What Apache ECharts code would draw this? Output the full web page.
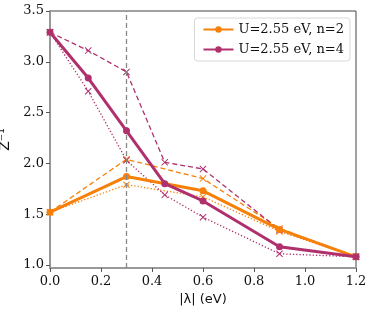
<!DOCTYPE html>
<html><head><meta charset="utf-8">
<script src="https://cdn.jsdelivr.net/npm/echarts@6/dist/echarts.min.js"></script>
<style>html,body{margin:0;padding:0;background:#fff}#c{width:374px;height:312px}</style>
</head><body><div id="c"></div>
<script>
// data
const xN2 = [0, 0.3, 0.6, 0.9, 1.2];
const n2Solid = [1.52, 1.87, 1.73, 1.35, 1.08];
const n2Dashed = [1.52, 2.04, 1.85, 1.36, 1.08];
const n2Dotted = [1.52, 1.79, 1.67, 1.33, 1.08];
const xN4 = [0, 0.15, 0.3, 0.45, 0.6, 0.9, 1.2];
const n4Solid = [3.29, 2.84, 2.32, 1.80, 1.63, 1.18, 1.08];
const n4Dashed = [3.29, 3.11, 2.90, 2.01, 1.945, 1.345, 1.08];
const n4Dotted = [3.29, 2.71, 2.03, 1.69, 1.47, 1.11, 1.08];
const yTicks = [1.0, 1.5, 2.0, 2.5, 3.0, 3.5];
const legendNames = ['U=2.55 eV, n=2', 'U=2.55 eV, n=4'];
const lambdaMark = 0.3;

const ORANGE = '#f7800a', MAG = '#b0306e';
const XSYM = 'path://M0,1L1,0L5,4L9,0L10,1L6,5L10,9L9,10L5,6L1,10L0,9L4,5Z';
const pairs = (xs, ys) => xs.map((x, i) => [x, ys[i]]);

function solid(name, xs, ys, c, z) {
  return { name, type: 'line', data: pairs(xs, ys), symbol: 'circle', symbolSize: 7,
    lineStyle: { color: c, width: 3 }, itemStyle: { color: c }, z, animation: false };
}
function thin(name, xs, ys, c, type) {
  return { name, type: 'line', data: pairs(xs, ys), symbol: XSYM, symbolSize: 7,
    lineStyle: { color: c, width: 1.3, type }, itemStyle: { color: c }, z: 3, animation: false };
}

const chart = echarts.init(document.getElementById('c'));
const serif = 'DejaVu Serif';
chart.setOption({
  animation: false,
  grid: { left: 50, right: 18, top: 11, bottom: 44, show: true, borderColor: '#444', borderWidth: 1,
    containLabel: false, outerBoundsMode: 'none' },
  legend: {
    data: legendNames, right: 24, top: 18, orient: 'vertical', itemWidth: 30, itemHeight: 8, itemGap: 7,
    backgroundColor: '#fff', borderColor: '#d8d8d8', borderWidth: 1, borderRadius: 3, padding: [5, 6, 5, 8],
    textStyle: { fontFamily: serif, fontSize: 13, color: '#111' }
  },
  xAxis: {
    type: 'value', min: 0, max: 1.2, interval: 0.2,
    name: '|λ| (eV)', nameLocation: 'middle', nameGap: 25,
    nameTextStyle: { fontFamily: 'DejaVu Sans', fontSize: 13, color: '#111' },
    axisLine: { show: true, lineStyle: { color: '#999', width: 2 } },
    axisTick: { show: true, length: 4, lineStyle: { color: '#555' } },
    axisLabel: { fontFamily: serif, fontSize: 13, color: '#111', margin: 7, formatter: v => v.toFixed(1) },
    splitLine: { show: false }
  },
  yAxis: {
    type: 'value', min: 0.97, max: 3.5,
    name: 'Z⁻¹', nameLocation: 'middle', nameGap: 36,
    nameTextStyle: { fontFamily: 'DejaVu Sans', fontSize: 14, color: '#111' },
    axisLine: { show: true, lineStyle: { color: '#999', width: 2 } },
    axisTick: { show: true, length: 4, lineStyle: { color: '#555' }, customValues: yTicks },
    axisLabel: { fontFamily: serif, fontSize: 13, color: '#111', margin: 6, customValues: yTicks, formatter: v => v.toFixed(1) },
    splitLine: { show: false }
  },
  series: [
    { name: 'vline', type: 'line', data: [], z: 1,
      markLine: { silent: true, symbol: 'none', label: { show: false },
        lineStyle: { color: '#888', type: [5, 3], width: 1.3 }, data: [{ xAxis: lambdaMark }] } },
    thin('n2dash', xN2, n2Dashed, ORANGE, [5, 3]),
    thin('n2dot', xN2, n2Dotted, ORANGE, [1.3, 2]),
    thin('n4dash', xN4, n4Dashed, MAG, [5, 3]),
    thin('n4dot', xN4, n4Dotted, MAG, [1.3, 2]),
    solid(legendNames[0], xN2, n2Solid, ORANGE, 4),
    solid(legendNames[1], xN4, n4Solid, MAG, 5)
  ]
});
</script></body></html>
